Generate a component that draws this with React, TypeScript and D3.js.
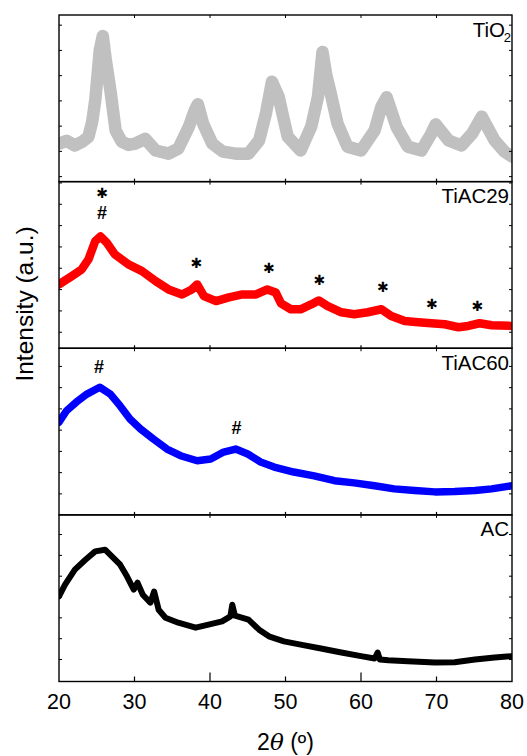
import React from 'react';
import * as d3 from 'd3';

// 2θ (deg) vs intensity (a.u., as % of the panel height)
const tio2 = [
  [20, 22.8], [21, 24.5], [22.1, 21.7], [23.1, 24], [23.9, 26.9], [24.4, 36], [24.8, 48.7], [25.4, 79],
  [25.8, 87.4], [26.2, 73], [26.8, 55], [27.5, 30.7], [28.3, 24], [29.2, 22], [30.1, 22.8], [31.4, 25.7],
  [32.8, 18.7], [34.5, 16.8], [35.8, 19.8], [37.2, 32.9], [38, 43], [38.4, 46.4], [39.1, 34.7],
  [40.3, 22.8], [41.7, 18], [43.4, 16.8], [45.1, 16.8], [46.5, 24.7], [47.4, 40.7], [48.2, 60],
  [49.1, 50.9], [49.6, 40.7], [50.3, 26.9], [52, 18.7], [53.4, 32.9], [54.3, 50.9], [54.9, 77.8],
  [55.4, 64], [56, 52.7], [56.9, 34.7], [58.2, 21], [60, 18.7], [61.8, 30.7], [62.7, 44.9],
  [63.4, 50.6], [64.7, 32.9], [66.2, 21], [68, 18.7], [69.3, 28.7], [69.9, 34.4], [71.6, 24.7],
  [73.3, 21.7], [74.7, 28.7], [76, 39], [77.7, 24.7], [79, 18], [80, 15]
];
const tiac29 = [
  [20, 38.3], [21.7, 43.3], [23, 47.3], [23.9, 53.3], [24.8, 64.3], [25.5, 67.1], [26.3, 63.5],
  [27.4, 56.3], [29.2, 50.3], [31, 46.3], [32.8, 40.3], [34.5, 35.3], [36.3, 32.3], [37.6, 35.3],
  [38.3, 38.3], [39.2, 31.3], [40.8, 28.3], [42.5, 30.5], [44.3, 32.3], [46.1, 32.3], [47.6, 35.3],
  [48.7, 33.5], [49.4, 26.9], [50.7, 23.4], [52, 23.4], [53.4, 26.3], [54.4, 28.7], [55.6, 25.3],
  [57.4, 21.6], [59.1, 20.4], [60.9, 21.6], [62.7, 23.4], [64, 19.3], [65.8, 16.3], [67.6, 15.6],
  [69.3, 15], [71.1, 14.4], [72.9, 12.6], [74.2, 13.4], [75.7, 15], [77.3, 13.8], [80, 13.4]
];
const tiac60 = [
  [20, 55.7], [21, 62.5], [22.3, 67.7], [23.7, 72.5], [25.4, 76.6], [26.8, 72.5], [28.1, 65.4],
  [29.4, 57.5], [30.8, 51.5], [32.5, 45.5], [34.3, 39.5], [36.1, 35.5], [38.3, 32.5], [40.1, 33.5],
  [41.8, 37.7], [43.4, 39.5], [45, 36.5], [46.7, 31.7], [48.5, 28.7], [51.1, 25.7], [53.8, 23.4],
  [56.5, 20.5], [59.1, 19.2], [61.8, 17.5], [64.4, 15.6], [67.1, 14.6], [69.8, 13.8], [72.4, 14],
  [75.1, 14.6], [77.3, 15.6], [80, 17.5]
];
const ac = [
  [20, 51.1], [20.8, 58.1], [22.1, 67.1], [23.5, 73.1], [24.8, 78.1], [26.1, 79.1], [27, 75.1],
  [28.1, 70.1], [29, 63.1], [29.9, 55.1], [30.4, 59.3], [31.1, 52.1], [32.1, 47.3], [32.6, 54],
  [33.2, 43.1], [34.1, 38.3], [35.8, 35.3], [38.1, 32.3], [39.8, 34.1], [41.6, 36.1], [42.7, 39.1],
  [42.95, 46.1], [43.3, 39.5], [45.1, 37.1], [46.5, 31.1], [47.8, 27.1], [49.8, 24.1], [52, 22.1],
  [54.7, 19.8], [57.4, 17.4], [60, 15.2], [61.8, 13.8], [62.2, 17.4], [62.5, 13.2], [63.6, 12.8],
  [66.2, 12.2], [69.8, 11.4], [72.4, 11.6], [75.1, 13.2], [77.7, 14.4], [80, 15.2]
];

// peak markers: 2θ, height (% of panel), symbol
const tiac29Marks = [
  [25.7, 93.2, '*'], [25.7, 81.3, '#'], [38.2, 50.9, '*'], [47.8, 47.9, '*'], [54.5, 41, '*'],
  [62.9, 36.8, '*'], [69.4, 26.8, '*'], [75.4, 25.1, '*']
];
const tiac60Marks = [[25.3, 89.2, '#'], [43.5, 52.7, '#']];

const xTicks = [20, 30, 40, 50, 60, 70, 80];

const panels = [
  { name: 'TiO', sub: '2', data: tio2, color: '#c0c0c0', width: 12.5, marks: [], tick0: 3, tickStep: 15.15 },
  { name: 'TiAC29', sub: '', data: tiac29, color: '#ff0000', width: 8.5, marks: tiac29Marks, tick0: 9.6, tickStep: 12.8 },
  { name: 'TiAC60', sub: '', data: tiac60, color: '#0000ff', width: 7.5, marks: tiac60Marks, tick0: 12.6, tickStep: 12.75 },
  { name: 'AC', sub: '', data: ac, color: '#000000', width: 6, marks: [], tick0: 13.2, tickStep: 12.5 }
];

const W = 527;
const H = 756;
const left = 59;
const right = 512;
const top = 15;
const bottom = 681.5;
const panelH = (bottom - top) / panels.length;
const font = 'Liberation Sans, Arial, Helvetica, sans-serif';

export default function App() {
  const x = d3.scaleLinear().domain([20, 80]).range([left, right]);

  return (
    <svg width={W} height={H} style={{ position: 'absolute', left: 0, top: 0, background: '#fff' }}>
      <defs>
        {panels.map((p, i) => (
          <clipPath id={`clip${i}`} key={i}>
            <rect x={left} y={top + i * panelH} width={right - left} height={panelH} />
          </clipPath>
        ))}
      </defs>
      {panels.map((p, i) => {
        const y0 = top + i * panelH;
        const y = d3.scaleLinear().domain([0, 100]).range([y0 + panelH, y0]);
        const line = d3.line<any>().x((d) => x(d[0])).y((d) => y(d[1]));
        const yTicks = d3.range(p.tick0, 100, p.tickStep);
        const isLast = i === panels.length - 1;
        return (
          <g key={p.name}>
            <path
              d={line(p.data) || ''}
              fill="none"
              stroke={p.color}
              strokeWidth={p.width}
              strokeLinejoin="round"
              strokeLinecap="round"
              clipPath={`url(#clip${i})`}
            />
            {p.marks.map((m: any, j: number) =>
              m[2] === '*' ? (
                <text
                  key={j}
                  x={x(m[0])}
                  y={y(m[1])}
                  dy="0.36em"
                  textAnchor="middle"
                  fontFamily="DejaVu Sans, sans-serif"
                  fontWeight="bold"
                  fontSize={14}
                >
                  ✱
                </text>
              ) : (
                <text
                  key={j}
                  x={x(m[0])}
                  y={y(m[1])}
                  dy="0.36em"
                  textAnchor="middle"
                  fontFamily={font}
                  fontWeight="bold"
                  fontSize={18}
                >
                  #
                </text>
              )
            )}
            {yTicks.map((t) => (
              <g key={t}>
                <line x1={left} x2={left + 3} y1={y(t)} y2={y(t)} stroke="#000" strokeWidth={1} />
                <line x1={right - 3} x2={right} y1={y(t)} y2={y(t)} stroke="#000" strokeWidth={1} />
              </g>
            ))}
            {xTicks.slice(1, -1).map((t, k) => (
              <g key={t}>
                <line x1={x(t)} x2={x(t)} y1={y0} y2={y0 + 3} stroke="#000" strokeWidth={1} />
                <line
                  x1={x(t)}
                  x2={x(t)}
                  y1={y0 + panelH}
                  y2={y0 + panelH - (isLast ? (k % 2 === 1 ? 9 : 5) : 3)}
                  stroke="#000"
                  strokeWidth={1.2}
                />
              </g>
            ))}
            <rect x={left} y={y0} width={right - left} height={panelH} fill="none" stroke="#000" strokeWidth={1.4} />
            <text x={right - (p.sub ? 7 : 3)} y={y0 + 21.5} textAnchor="end" fontFamily={font} fontSize={20.5}>
              {p.name}
            </text>
            {p.sub && (
              <text x={right - 1} y={y0 + 27} textAnchor="end" fontFamily={font} fontSize={13}>
                {p.sub}
              </text>
            )}
          </g>
        );
      })}
      {xTicks.map((t) => (
        <text key={t} x={x(t)} y={708.5} textAnchor="middle" fontFamily={font} fontSize={21.5}>
          {t}
        </text>
      ))}
      <text x={(left + right) / 2} y={750} textAnchor="middle" fontFamily={font} fontSize={23}>
        2<tspan fontStyle="italic" fontFamily="DejaVu Serif, serif">θ</tspan> (º)
      </text>
      <text
        transform={`translate(33, 304) rotate(-90)`}
        textAnchor="middle"
        fontFamily={font}
        fontSize={24.5}
      >
        Intensity (a.u.)
      </text>
    </svg>
  );
}
